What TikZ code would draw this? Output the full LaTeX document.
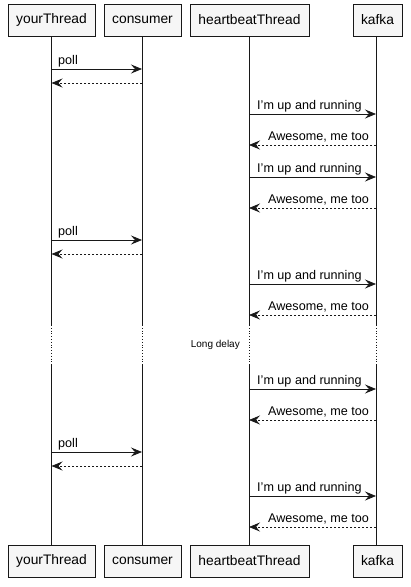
\documentclass[tikz,border=0pt]{standalone}
\usepackage{fontspec}
\setmainfont{Liberation Sans}
\usetikzlibrary{arrows.meta}
\definecolor{ln}{HTML}{181818}
\definecolor{bx}{HTML}{F6F6F6}
\tikzset{
  part/.style={draw=ln, line width=0.9pt, fill=bx, minimum height=32pt, inner xsep=6pt, font=\fontsize{13.8}{15}\selectfont, anchor=center},
  life/.style={draw=ln, line width=0.8pt},
  lifedot/.style={draw=ln, line width=0.8pt, dotted},
  msg/.style={draw=ln, line width=0.8pt, -{Stealth[length=11pt,width=9pt,inset=4pt]}},
  ret/.style={msg, dash pattern=on 2pt off 2pt},
  lbl/.style={font=\fontsize{12.6}{14}\selectfont, inner sep=0pt}
}
\begin{document}
\begin{tikzpicture}[x=1pt,y=-1pt]
\useasboundingbox (0,0) rectangle (411,587);
% participants top
\node[part, minimum width=87pt] (yt) at (51.5,20) {yourThread};
\node[part, minimum width=77pt] (co) at (142.5,20) {consumer};
\node[part, minimum width=119pt] (hb) at (249.5,20) {heartbeatThread};
\node[part, minimum width=49pt] (kf) at (377.5,20) {kafka};
% participants bottom
\node[part, minimum width=87pt] (ytb) at (51.5,561) {yourThread};
\node[part, minimum width=77pt] (cob) at (142.5,561) {consumer};
\node[part, minimum width=119pt] (hbb) at (249.5,561) {heartbeatThread};
\node[part, minimum width=49pt] (kfb) at (377.5,561) {kafka};
% lifelines
\foreach \x/\n in {51.5/a,142/b,249/c,376/d}{
  \coordinate (\n1) at (\x,36);
  \coordinate (\n2) at (\x,325);
  \coordinate (\n3) at (\x,365);
  \coordinate (\n4) at (\x,545);
  \draw[life] (\n1) -- (\n2);
  \draw[lifedot] (\n2) -- (\n3);
  \draw[life] (\n3) -- (\n4);
}
% delay
\node[font=\fontsize{10}{11}\selectfont, anchor=east, inner sep=0pt] (delay) at (240,345) {Long delay};
% polls
\foreach \y in {69,240,452}{
  \coordinate (ps) at (51.5,\y);
  \coordinate (pe) at (142,\y);
  \coordinate (rs) at (142,\y+14);
  \coordinate (re) at (51.5,\y+14);
  \draw[msg] (ps) -- (pe);
  \draw[ret] (rs) -- (re);
  \node[lbl, anchor=base west] (pl) at (58,\y-5) {poll};
}
% heartbeats
\foreach \y in {114,177,284,389,496}{
  \coordinate (hs) at (249,\y);
  \coordinate (he) at (376,\y);
  \coordinate (ks) at (376,\y+31);
  \coordinate (ke) at (249,\y+31);
  \draw[msg] (hs) -- (he);
  \draw[ret] (ks) -- (ke);
  \node[lbl, anchor=base west] (up) at (257,\y-5) {I'm up and running};
  \node[lbl, anchor=base east] (aw) at (369,\y+26) {Awesome, me too};
}
\end{tikzpicture}
\end{document}
